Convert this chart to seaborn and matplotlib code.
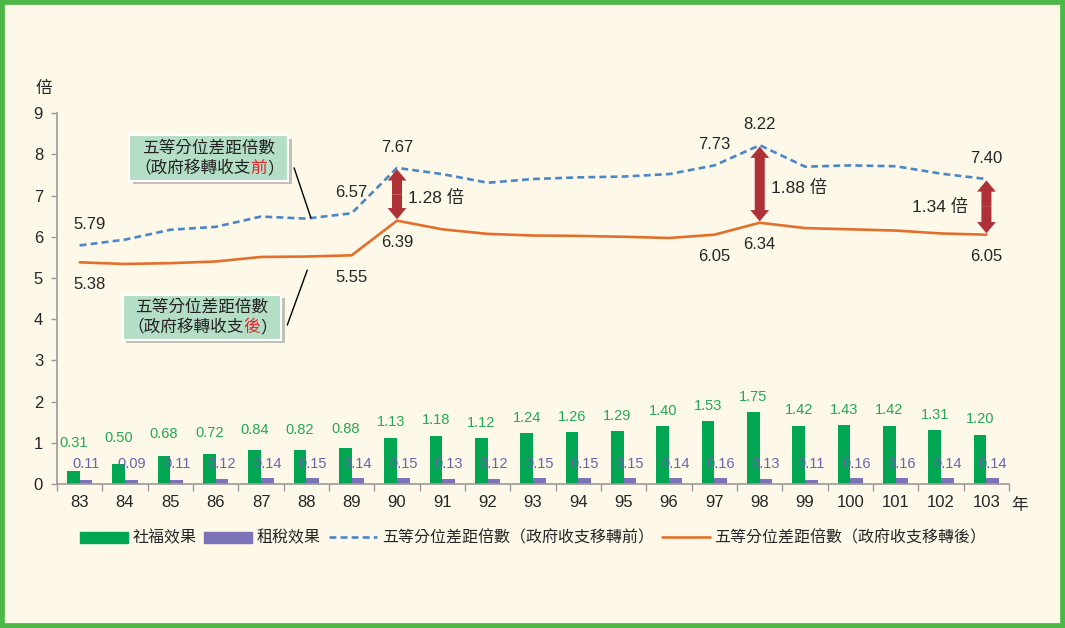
import numpy as np
import pandas as pd
import matplotlib
matplotlib.use('Agg')
import matplotlib.pyplot as plt
import seaborn as sns
from matplotlib.patches import Patch, Rectangle
from matplotlib.lines import Line2D
from matplotlib.offsetbox import TextArea, HPacker, VPacker, AnnotationBbox
from matplotlib.transforms import blended_transform_factory
import matplotlib.patheffects as pe

# data
years = ['83', '84', '85', '86', '87', '88', '89', '90', '91', '92', '93',
         '94', '95', '96', '97', '98', '99', '100', '101', '102', '103']
welfare = [0.31, 0.50, 0.68, 0.72, 0.84, 0.82, 0.88, 1.13, 1.18, 1.12, 1.24,
           1.26, 1.29, 1.40, 1.53, 1.75, 1.42, 1.43, 1.42, 1.31, 1.20]
tax = [0.11, 0.09, 0.11, 0.12, 0.14, 0.15, 0.14, 0.15, 0.13, 0.12, 0.15,
       0.15, 0.15, 0.14, 0.16, 0.13, 0.11, 0.16, 0.16, 0.14, 0.14]
before = [5.79, 5.93, 6.17, 6.24, 6.49, 6.44, 6.57, 7.67, 7.52, 7.31, 7.40,
          7.44, 7.46, 7.52, 7.73, 8.22, 7.70, 7.73, 7.71, 7.53, 7.40]
after = [5.38, 5.34, 5.36, 5.40, 5.51, 5.52, 5.55, 6.39, 6.18, 6.07, 6.03,
         6.02, 6.00, 5.97, 6.05, 6.34, 6.21, 6.18, 6.15, 6.08, 6.05]
labeled_years = ['83', '89', '90', '97', '98', '103']
gap_years = ['90', '98', '103']
gap_values = [1.28, 1.88, 1.34]

legend_names = ['社福效果', '租稅效果',
                '五等分位差距倍數（政府收支移轉前）',
                '五等分位差距倍數（政府收支移轉後）']

bg = '#FDF8E8'
green = '#00A651'
purple = '#7B72B8'
blue = '#4A86C8'
orange = '#E2702A'
arrow_red = '#AE3138'

sns.set_theme(style='white')
plt.rcParams['font.family'] = ['Liberation Sans', 'Noto Sans CJK TC']

fig = plt.figure(figsize=(10.65, 6.28), dpi=100, facecolor=bg)
ax = fig.add_axes([0.0535, 0.229, 0.894, 0.591])
ax.set_facecolor(bg)

bars = pd.DataFrame({
    'year': years * 2,
    'type': [legend_names[0]] * len(years) + [legend_names[1]] * len(years),
    'value': welfare + tax,
})
sns.barplot(data=bars, x='year', y='value', hue='type', palette=[green, purple],
            width=0.56, saturation=1, linewidth=0, ax=ax, legend=False)

idx = np.arange(len(years))
sns.lineplot(x=idx, y=before, color=blue, lw=1.9, ax=ax,
             linestyle=(0, (2.6, 1.6)))
sns.lineplot(x=idx, y=after, color=orange, lw=1.9, ax=ax)

# bar value labels
for i, (w, t) in enumerate(zip(welfare, tax)):
    ax.text(i - 0.14, max(0.62 * w + 0.8, w + 0.37), f'{w:.2f}', ha='center',
            va='center', fontsize=10.5, color='#22A952')
    ax.text(i + 0.14, 0.48, f'{t:.2f}', ha='center', va='center',
            fontsize=10.5, color='#6A62B0')

# line value labels
for y in labeled_years:
    i = years.index(y)
    dx = 7 if i == 0 else 0
    ax.annotate(f'{before[i]:.2f}', (i, before[i]), xytext=(dx, 15),
                textcoords='offset points', ha='center', va='center', fontsize=12)
    ax.annotate(f'{after[i]:.2f}', (i, after[i]), xytext=(dx, -16),
                textcoords='offset points', ha='center', va='center', fontsize=12)

# double arrows between the two lines
for y, g in zip(gap_years, gap_values):
    i = years.index(y)
    mid = (before[i] + after[i]) / 2
    for end in (before[i], after[i]):
        ax.annotate('', xy=(i, end), xytext=(i, mid),
                    arrowprops=dict(arrowstyle='simple,head_length=0.45,head_width=0.75,tail_width=0.4',
                                    mutation_scale=18, fc=arrow_red, ec='none',
                                    lw=0, shrinkA=0, shrinkB=1))
    txt = f'{g:.2f} 倍'
    if i == len(years) - 1:
        ax.text(i - 0.4, mid, txt, ha='right', va='center', fontsize=12.5)
    else:
        ax.text(i + 0.25, mid - 0.1, txt, ha='left', va='center', fontsize=12.5)


# callout boxes
def callout(last, xy, line_from, line_to):
    rows = VPacker(children=[
        TextArea('五等分位差距倍數', textprops=dict(fontsize=12, color='#222222')),
        HPacker(children=[
            TextArea('（政府移轉收支', textprops=dict(fontsize=12, color='#222222')),
            TextArea(last, textprops=dict(fontsize=12, color='#E8262A')),
            TextArea('）', textprops=dict(fontsize=12, color='#222222')),
        ], sep=0, pad=0),
    ], align='center', sep=3, pad=0)
    ab = AnnotationBbox(rows, xy, xycoords='data', frameon=True, pad=0.6,
                        bboxprops=dict(facecolor='#B5DEC6', edgecolor='white',
                                       lw=1.5, boxstyle='square'))
    ab.patch.set_path_effects([pe.SimplePatchShadow(offset=(2.5, -2.5), alpha=0.3),
                               pe.Normal()])
    ax.add_artist(ab)
    ax.plot([line_from[0], line_to[0]], [line_from[1], line_to[1]],
            color='black', lw=1)


callout('前', (2.85, 7.91), (4.73, 7.67), (5.1, 6.46))
callout('後', (2.7, 4.05), (5.02, 5.19), (4.58, 3.86))

# axes styling
ax.set_xlim(-0.5, len(years) - 0.5)
ax.set_ylim(0, 9)
ax.set_yticks(range(10))
ax.set_xlabel('')
ax.set_ylabel('')
ax.set_xticks(idx)
ax.set_xticklabels(years)
ax.set_xticks(np.arange(-0.5, len(years), 1), minor=True)
ax.tick_params(axis='x', which='major', length=0, labelsize=12, pad=8)
ax.tick_params(axis='x', which='minor', length=5, color='#9A9A9A', width=1,
               direction='out', bottom=True)
ax.tick_params(axis='y', length=4, color='#9A9A9A', width=1, labelsize=12,
               left=True, direction='out', pad=6)
for s in ['top', 'right']:
    ax.spines[s].set_visible(False)
for s in ['left', 'bottom']:
    ax.spines[s].set_color('#9A9A9A')
    ax.spines[s].set_linewidth(1.2)

bt = blended_transform_factory(ax.transData, ax.transAxes)
ax.text(len(years) - 0.45, -0.058, '年', transform=bt, ha='left', va='center',
        fontsize=12)
ax.text(-0.014, 1.067, '倍', transform=ax.transAxes, ha='center', va='center',
        fontsize=12)

handles = [Patch(color=green), Patch(color=purple),
           Line2D([], [], color=blue, lw=1.9, linestyle=(0, (2.6, 1.6))),
           Line2D([], [], color=orange, lw=1.9)]
ax.legend(handles, legend_names, loc='center', bbox_to_anchor=(0.5, -0.145),
          ncol=4, frameon=False, fontsize=11.5, handlelength=3.0,
          handleheight=0.7, handletextpad=0.3, columnspacing=0.5)

# green frame around the figure
fig.patches.append(Rectangle((0, 0), 1, 1, transform=fig.transFigure,
                             fill=False, edgecolor='#4DB848', lw=7))

fig.savefig('out.png', dpi=100, facecolor=bg)
